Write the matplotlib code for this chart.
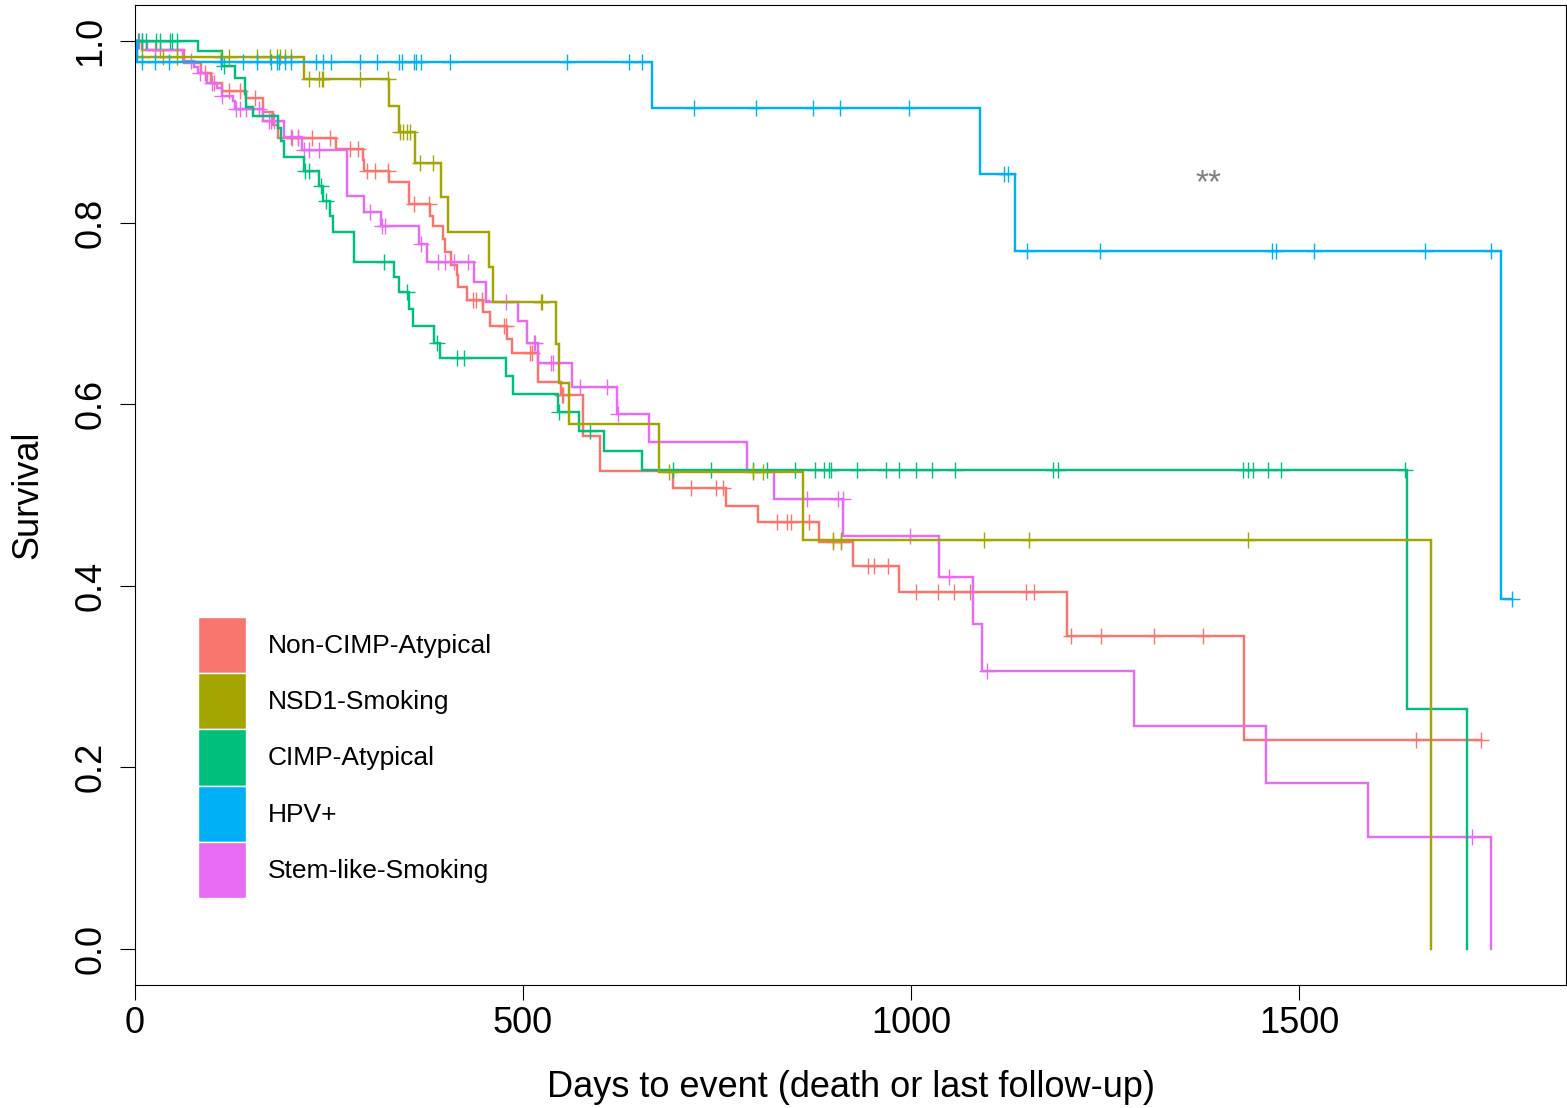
import matplotlib
matplotlib.use("Agg")
import matplotlib.pyplot as plt
import numpy as np
from matplotlib.patches import Patch

plt.rcParams["font.family"] = ["Liberation Sans", "DejaVu Sans"]

groups = ["Non-CIMP-Atypical", "NSD1-Smoking", "CIMP-Atypical", "HPV+", "Stem-like-Smoking"]
colors = ["#F8766D", "#A3A500", "#00BF7D", "#00B0F6", "#E76BF3"]

# Kaplan-Meier steps: event days, survival after each event, censored days
noncimp_times = [10, 64, 85, 98, 113, 143, 165, 178, 184, 259, 294, 296, 327, 353, 354, 381, 384,
                 397, 400, 407, 415, 416, 428, 449, 458, 480, 486, 520, 549, 577, 600, 694, 762,
                 803, 882, 926, 985, 1201, 1429]
noncimp_surv = [0.990, 0.976, 0.965, 0.954, 0.945, 0.937, 0.922, 0.908, 0.893, 0.881, 0.869, 0.857,
                0.845, 0.834, 0.821, 0.808, 0.796, 0.782, 0.768, 0.753, 0.742, 0.729, 0.715, 0.702,
                0.686, 0.672, 0.657, 0.625, 0.610, 0.565, 0.526, 0.508, 0.488, 0.470, 0.448, 0.422,
                0.393, 0.345, 0.230]
noncimp_cens = [26, 32, 55, 91, 102, 121, 136, 155, 203, 210, 228, 251, 278, 288, 299, 309, 326,
                360, 379, 436, 440, 448, 476, 479, 509, 512, 550, 552, 717, 749, 758, 828, 841,
                846, 869, 900, 910, 945, 953, 971, 1007, 1035, 1056, 1076, 1148, 1159, 1206, 1245,
                1313, 1376, 1651, 1735]

nsd1_times = [3, 218, 328, 341, 361, 395, 403, 456, 462, 543, 547, 559, 675, 861, 1670]
nsd1_surv = [0.983, 0.958, 0.929, 0.900, 0.866, 0.828, 0.790, 0.751, 0.713, 0.666, 0.623, 0.578,
             0.525, 0.450, 0.0]
nsd1_cens = [9, 36, 55, 111, 121, 157, 174, 183, 187, 193, 202, 224, 237, 241, 243, 290, 326, 342,
             346, 351, 355, 367, 384, 523, 525, 688, 796, 810, 900, 910, 1094, 1152, 1434]

cimp_times = [82, 112, 129, 142, 144, 152, 184, 188, 192, 218, 237, 243, 252, 256, 282, 334, 341,
              353, 359, 385, 393, 479, 488, 545, 572, 605, 654, 1639, 1716]
cimp_surv = [0.989, 0.973, 0.960, 0.942, 0.928, 0.918, 0.905, 0.890, 0.873, 0.857, 0.841, 0.824,
             0.808, 0.790, 0.757, 0.740, 0.724, 0.705, 0.686, 0.668, 0.651, 0.631, 0.611, 0.591,
             0.570, 0.549, 0.528, 0.264, 0.0]
cimp_cens = [4, 9, 15, 28, 32, 45, 48, 55, 115, 219, 225, 240, 247, 321, 351, 390, 415, 424, 546,
             587, 693, 743, 796, 815, 851, 877, 888, 895, 897, 930, 968, 985, 1007, 1027, 1057,
             1183, 1189, 1428, 1434, 1441, 1460, 1477, 1636]

hpv_times = [3, 666, 1089, 1134, 1760]
hpv_surv = [0.977, 0.927, 0.854, 0.769, 0.385]
hpv_cens = [10, 26, 44, 111, 140, 157, 175, 183, 186, 193, 202, 234, 243, 253, 290, 312, 340, 344,
            360, 363, 369, 406, 557, 637, 653, 721, 800, 874, 909, 997, 1120, 1125, 1150, 1244,
            1465, 1470, 1519, 1662, 1747, 1775]

stem_times = [16, 62, 77, 81, 93, 106, 112, 126, 129, 165, 192, 216, 274, 295, 317, 366, 377, 437,
              452, 494, 506, 520, 564, 622, 663, 789, 823, 913, 1036, 1080, 1092, 1288, 1457,
              1589, 1747]
stem_surv = [0.990, 0.978, 0.972, 0.965, 0.954, 0.948, 0.940, 0.934, 0.925, 0.912, 0.895, 0.880,
             0.829, 0.812, 0.796, 0.777, 0.757, 0.735, 0.713, 0.692, 0.668, 0.646, 0.619, 0.589,
             0.558, 0.527, 0.496, 0.455, 0.410, 0.358, 0.306, 0.245, 0.183, 0.123, 0.0]
stem_cens = [6, 10, 73, 84, 99, 113, 131, 136, 143, 160, 173, 175, 179, 201, 210, 218, 224, 237,
             303, 319, 323, 369, 391, 400, 412, 429, 479, 514, 516, 536, 539, 574, 608, 623, 866,
             906, 912, 999, 1049, 1098, 1723]

x_ticks = [0, 500, 1000, 1500]
y_ticks = [0.0, 0.2, 0.4, 0.6, 0.8, 1.0]
pvalue_label = "**"
pvalue_pos = (1384, 0.843)


def km_curve(times, surv, cens):
    times = np.asarray(times, float)
    surv = np.asarray(surv, float)
    cens = np.asarray(cens, float)
    end = max(times.max(), cens.max())
    x = np.concatenate([[0.0], times, [end]])
    y = np.concatenate([[1.0], surv, [surv[-1]]])
    levels = np.concatenate([[1.0], surv])
    cy = levels[np.searchsorted(times, cens, side="right")]
    return x, y, cens, cy


def main():
    curves = {
        "Non-CIMP-Atypical": (noncimp_times, noncimp_surv, noncimp_cens),
        "NSD1-Smoking": (nsd1_times, nsd1_surv, nsd1_cens),
        "CIMP-Atypical": (cimp_times, cimp_surv, cimp_cens),
        "HPV+": (hpv_times, hpv_surv, hpv_cens),
        "Stem-like-Smoking": (stem_times, stem_surv, stem_cens),
    }
    color_of = dict(zip(groups, colors))
    draw_order = ["Non-CIMP-Atypical", "Stem-like-Smoking", "CIMP-Atypical", "NSD1-Smoking", "HPV+"]

    W, H = 1567, 1108
    fig = plt.figure(figsize=(W / 100, H / 100), dpi=100)
    ax = fig.add_axes([134.7 / W, 1 - 985 / H, (1566 - 134.7) / W, (985 - 5) / H])

    for name in draw_order:
        x, y, cx, cy = km_curve(*curves[name])
        c = color_of[name]
        ax.step(x, y, where="post", color=c, linewidth=1.75, solid_joinstyle="miter")
        ax.plot(cx, cy, "+", color=c, markersize=12, markeredgewidth=1.0, linestyle="none")

    ax.text(*pvalue_pos, pvalue_label, color="#808080", fontsize=24, ha="center", va="center")

    ax.set_xlim(0, 1844)
    ax.set_ylim(-0.04, 1.04)
    ax.set_xticks(x_ticks, labels=[str(t) for t in x_ticks])
    ax.set_yticks(y_ticks, labels=[f"{t:.1f}" for t in y_ticks], rotation=90, va="center")
    ax.tick_params(axis="both", direction="out", length=10.8, width=0.8, labelsize=26)
    ax.tick_params(axis="x", pad=4)
    ax.tick_params(axis="y", pad=8)
    for sp in ax.spines.values():
        sp.set_linewidth(0.8)

    ax.set_xlabel("Days to event (death or last follow-up)", fontsize=26, va="center")
    ax.xaxis.set_label_coords(0.5005, -0.105)
    ax.set_ylabel("Survival", fontsize=26, va="center")
    ax.yaxis.set_label_coords(-0.0746, 0.5)

    # legend boxes: 48 x 56 px each, stacked with no gap
    handles = [Patch(facecolor=color_of[g], edgecolor="white", linewidth=1.0) for g in groups]
    ax.legend(handles, groups, loc="upper left", bbox_to_anchor=(0.0442, 0.3755),
              frameon=False, fontsize=19, handlelength=1.819, handleheight=2.9,
              handletextpad=0.834, labelspacing=0, borderpad=0, borderaxespad=0)

    fig.savefig("out.png", dpi=100)


if __name__ == "__main__":
    main()
